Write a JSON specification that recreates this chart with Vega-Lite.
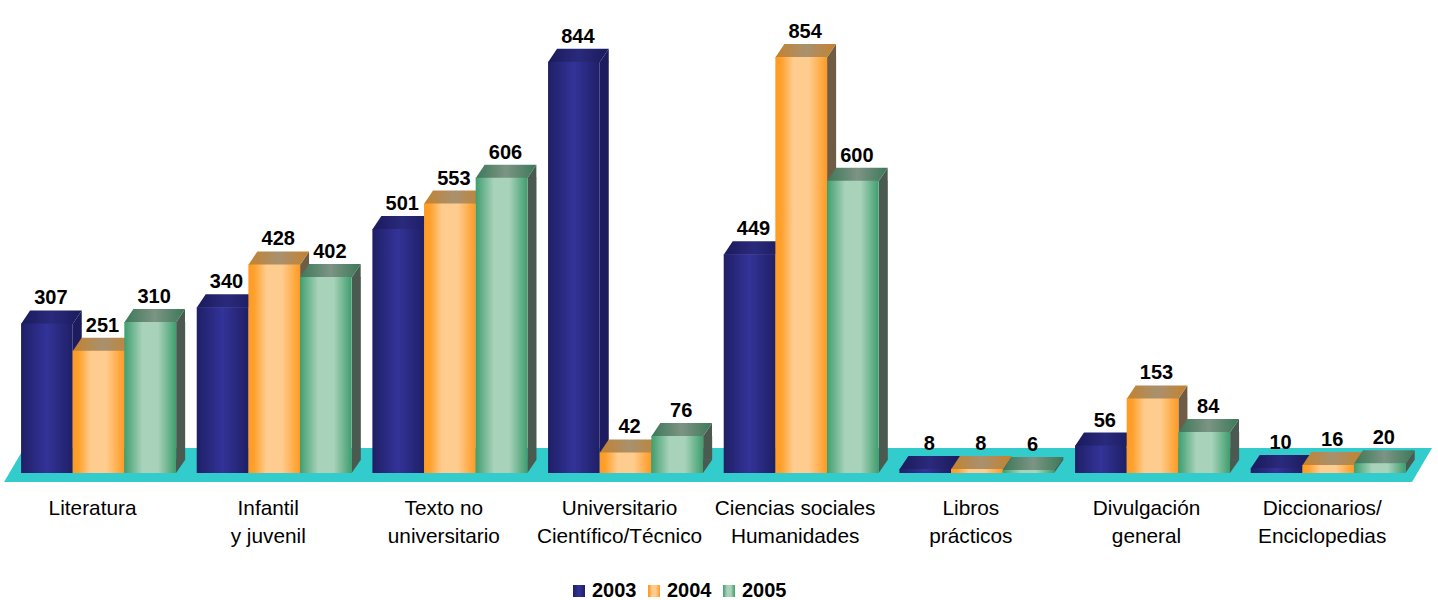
{"$schema":"https://vega.github.io/schema/vega-lite/v6.json","width":1438,"height":600,"padding":0,"autosize":{"type":"none"},"background":"white","config":{"view":{"stroke":null},"font":"Liberation Sans"},
"data":{"values":[
{"cat":"Literatura","year":"2003","value":307},{"cat":"Literatura","year":"2004","value":251},{"cat":"Literatura","year":"2005","value":310},
{"cat":"Infantil|y juvenil","year":"2003","value":340},{"cat":"Infantil|y juvenil","year":"2004","value":428},{"cat":"Infantil|y juvenil","year":"2005","value":402},
{"cat":"Texto no|universitario","year":"2003","value":501},{"cat":"Texto no|universitario","year":"2004","value":553},{"cat":"Texto no|universitario","year":"2005","value":606},
{"cat":"Universitario|Científico/Técnico","year":"2003","value":844},{"cat":"Universitario|Científico/Técnico","year":"2004","value":42},{"cat":"Universitario|Científico/Técnico","year":"2005","value":76},
{"cat":"Ciencias sociales|Humanidades","year":"2003","value":449},{"cat":"Ciencias sociales|Humanidades","year":"2004","value":854},{"cat":"Ciencias sociales|Humanidades","year":"2005","value":600},
{"cat":"Libros|prácticos","year":"2003","value":8},{"cat":"Libros|prácticos","year":"2004","value":8},{"cat":"Libros|prácticos","year":"2005","value":6},
{"cat":"Divulgación|general","year":"2003","value":56},{"cat":"Divulgación|general","year":"2004","value":153},{"cat":"Divulgación|general","year":"2005","value":84},
{"cat":"Diccionarios/|Enciclopedias","year":"2003","value":10},{"cat":"Diccionarios/|Enciclopedias","year":"2004","value":16},{"cat":"Diccionarios/|Enciclopedias","year":"2005","value":20}
]},
"encoding":{
"x":{"field":"cat","type":"nominal","scale":{"domain":["Literatura","Infantil|y juvenil","Texto no|universitario","Universitario|Científico/Técnico","Ciencias sociales|Humanidades","Libros|prácticos","Divulgación|general","Diccionarios/|Enciclopedias"],"range":[10.7,1416],"paddingInner":0.118,"paddingOuter":0.059},"axis":{"title":null,"domain":false,"ticks":false,"labelAngle":0,"labelFontSize":20.8,"labelColor":"#000000","labelFont":"Liberation Sans","labelOffset":-6,"labelPadding":0,"labelBaseline":"middle","labelLineHeight":28,"labelLimit":400,"labelOverlap":false,"offset":-92,"labelExpr":"split(datum.label,'|')"}},
"y":{"field":"value","type":"quantitative","scale":{"domain":[-261,971],"nice":false,"zero":false},"axis":null}
},
"layer":[
{"data":{"values":[{"cat":"Universitario|Científico/Técnico","value":0}]},"mark":{"type":"point","filled":true,"opacity":1,"size":4,"strokeWidth":0,"shape":"M-621.5,9 L786.5,9 L806.5,-25 L-601.5,-25 Z"},"encoding":{"fill":{"value":"#33CCCC"}}},
{"transform":[{"filter":"datum.value>=27"}],"mark":{"type":"bar","width":9,"y2Offset":-13},"encoding":{"xOffset":{"field":"year","type":"nominal","scale":{"domain":["2003","2004","2005"],"range":[51.7,164.1],"paddingInner":0.826,"paddingOuter":0}},"y2":{"datum":0},"fill":{"field":"year","type":"nominal","legend":null,"scale":{"domain":["2003","2004","2005"],"range":["#1C1C5E","#6E5C45","#4A5A50"]}}}},
{"transform":[{"filter":"datum.value>=27"}],"mark":{"type":"point","filled":true,"opacity":1,"size":4,"strokeWidth":0,"shape":"M25.85,0.5 L34.85,-13 L34.85,0.5 Z"},"encoding":{"xOffset":{"field":"year","type":"nominal"},"fill":{"field":"year","type":"nominal","legend":null,"scale":{"domain":["2003","2004","2005"],"range":["#1C1C5E","#6E5C45","#4A5A50"]}}}},
{"transform":[{"filter":"datum.value>=27"}],"mark":{"type":"point","filled":true,"opacity":1,"size":4,"strokeWidth":0,"shape":"M25.85,0 L34.85,-13 L25.85,-13.5 Z"},"encoding":{"xOffset":{"field":"year","type":"nominal"},"y":{"datum":0},"fill":{"field":"year","type":"nominal","legend":null,"scale":{"domain":["2003","2004","2005"],"range":["#1C1C5E","#6E5C45","#4A5A50"]}}}},
{"transform":[{"filter":"datum.value<27"}],"mark":{"type":"point","filled":true,"opacity":1,"size":4,"strokeWidth":0},"encoding":{"xOffset":{"field":"year","type":"nominal"},"shape":{"field":"value","type":"nominal","legend":null,"scale":{"domain":[6,8,10,16,20],"range":["M25.85,0 L34.85,-13 L34.85,-10.1 L25.85,2.9 Z","M25.85,0 L34.85,-13 L34.85,-9.1 L25.85,3.9 Z","M25.85,0 L34.85,-13 L34.85,-8.1 L25.85,4.9 Z","M25.85,0 L34.85,-13 L34.85,-5.2 L25.85,7.8 Z","M25.85,0 L34.85,-13 L34.85,-3.3 L25.85,9.7 Z"]}},"fill":{"field":"year","type":"nominal","legend":null,"scale":{"domain":["2003","2004","2005"],"range":["#1C1C5E","#6E5C45","#4A5A50"]}}}},
{"mark":{"type":"point","filled":true,"opacity":1,"size":4,"strokeWidth":0,"shape":"M-25.85,0.5 L25.85,0.5 L34.85,-13 L-16.85,-13 Z"},"encoding":{"xOffset":{"field":"year","type":"nominal"},"fill":{"field":"year","type":"nominal","legend":null,"scale":{"domain":["2003","2004","2005"],"range":[
{"expr":"{gradient:'linear',x1:0,y1:0,x2:1,y2:0,stops:[{offset:0,color:'#1A1A5C'},{offset:0.5,color:'#2A2A7C'},{offset:1,color:'#1A1A5C'}]}"},
{"expr":"{gradient:'linear',x1:0,y1:0,x2:1,y2:0,stops:[{offset:0,color:'#C4822E'},{offset:0.5,color:'#A8916F'},{offset:1,color:'#C4822E'}]}"},
{"expr":"{gradient:'linear',x1:0,y1:0,x2:1,y2:0,stops:[{offset:0,color:'#3C7858'},{offset:0.5,color:'#7C9484'},{offset:1,color:'#3C7858'}]}"}
]}}}},
{"mark":{"type":"bar","width":{"band":1}},"encoding":{"xOffset":{"field":"year","type":"nominal"},"y2":{"datum":0},"color":{"field":"year","type":"nominal","scale":{"domain":["2003","2004","2005"],"range":[
{"expr":"{gradient:'linear',x1:0,y1:0,x2:1,y2:0,stops:[{offset:0,color:'#1F1F66'},{offset:0.5,color:'#333399'},{offset:1,color:'#1F1F66'}]}"},
{"expr":"{gradient:'linear',x1:0,y1:0,x2:1,y2:0,stops:[{offset:0,color:'#FF9A22'},{offset:0.12,color:'#FFA12E'},{offset:0.35,color:'#FFCC8F'},{offset:0.65,color:'#FFCC8F'},{offset:1,color:'#FF9A22'}]}"},
{"expr":"{gradient:'linear',x1:0,y1:0,x2:1,y2:0,stops:[{offset:0,color:'#3F9E6E'},{offset:0.35,color:'#A8D2BA'},{offset:0.65,color:'#A8D2BA'},{offset:1,color:'#3F9E6E'}]}"}
]},"legend":{"orient":"none","legendX":569,"legendY":581,"direction":"horizontal","title":null,"symbolType":"square","symbolSize":144,"symbolStrokeWidth":0,"labelFontSize":20,"labelFontWeight":"bold","labelColor":"#000000","labelFont":"Liberation Sans","columnPadding":7,"labelOffset":3}}}},
{"mark":{"type":"text","font":"Liberation Sans","fontSize":20,"fontWeight":"bold","color":"#000000","dx":4,"dy":-25,"baseline":"middle"},"encoding":{"xOffset":{"field":"year","type":"nominal"},"text":{"field":"value","type":"quantitative"}}}
],
"resolve":{"scale":{"fill":"independent","shape":"independent","color":"independent","xOffset":"independent"}}}
